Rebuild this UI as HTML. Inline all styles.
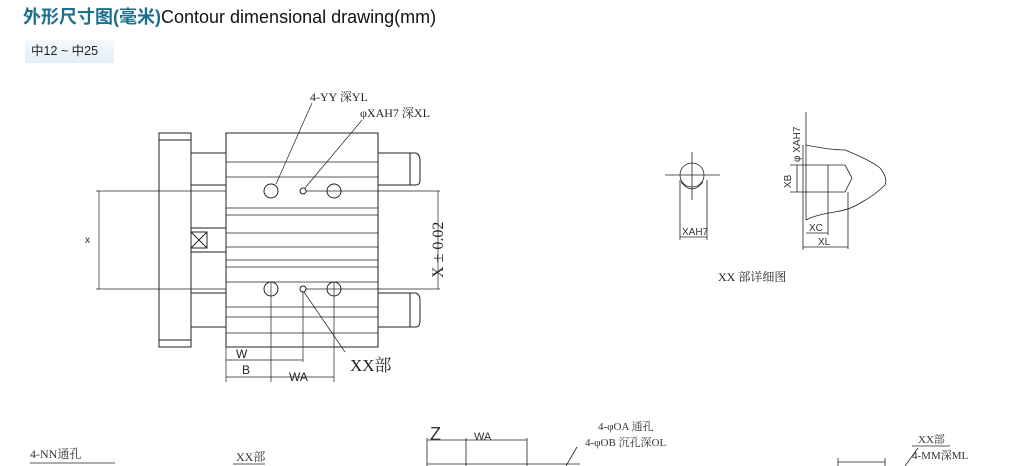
<!DOCTYPE html>
<html><head><meta charset="utf-8"><style>
body{margin:0;width:1024px;height:466px;background:#fff;overflow:hidden;position:relative;font-family:"Liberation Sans","Noto Sans CJK SC",sans-serif}
.t{position:absolute;left:23px;top:3px;font-size:18px;white-space:nowrap;color:#111}
.t b{color:#1d6f8f;font-weight:bold}
.badge{position:absolute;left:25px;top:40px;width:89px;height:23px;background:linear-gradient(#f4f9fc,#e3eef5);font-size:12.5px;line-height:23px;padding-left:6px;box-sizing:border-box;color:#222}
svg{position:absolute;left:0;top:0}
</style></head><body>
<div class="t"><b>外形尺寸图(毫米)</b>Contour dimensional drawing(mm)</div>
<div class="badge">中12 ~ 中25</div>
<svg width="1024" height="466" viewBox="0 0 1024 466" font-family="Liberation Serif, Noto Serif CJK SC, serif" fill="none" stroke="#222" stroke-width="1">
<rect x="159" y="133" width="32" height="214"/>
<line x1="159" y1="140" x2="191" y2="140"/><line x1="159" y1="340" x2="191" y2="340"/>
<rect x="191" y="153" width="35" height="32"/><rect x="191" y="293" width="35" height="34"/>
<rect x="191" y="228" width="35" height="24"/>
<rect x="191" y="232" width="16" height="16"/><line x1="191" y1="232" x2="207" y2="248"/><line x1="207" y1="232" x2="191" y2="248"/>
<path d="M378 153H416Q420 155 420 160V180Q420 185 416 185H378"/>
<path d="M378 293H416Q420 295 420 300V320Q420 327 416 327H378"/>
<line x1="410" y1="153" x2="410" y2="185"/><line x1="410" y1="293" x2="410" y2="327"/>
<rect x="226" y="133" width="152" height="214"/>
<g stroke-width="0.8">
<line x1="226" y1="162" x2="378" y2="162"/><line x1="226" y1="177" x2="378" y2="177"/>
<line x1="226" y1="208" x2="378" y2="208"/><line x1="226" y1="215" x2="378" y2="215"/>
<line x1="226" y1="233" x2="378" y2="233"/><line x1="226" y1="247" x2="378" y2="247"/>
<line x1="226" y1="260" x2="378" y2="260"/><line x1="226" y1="267" x2="378" y2="267"/>
<line x1="226" y1="282" x2="378" y2="282"/><line x1="226" y1="307" x2="378" y2="307"/>
<line x1="226" y1="317" x2="378" y2="317"/><line x1="226" y1="333" x2="378" y2="333"/>
</g>
<circle cx="271" cy="191" r="7" fill="#fff"/><circle cx="303" cy="191" r="3"/><circle cx="334" cy="191" r="7" fill="#fff"/>
<circle cx="271" cy="289" r="7" fill="#fff"/><circle cx="303" cy="289" r="3"/><circle cx="334" cy="289" r="7" fill="#fff"/>
<g stroke-width="0.7">
<line x1="96" y1="191" x2="226" y2="191"/><line x1="96" y1="289" x2="226" y2="289"/>
<line x1="306" y1="191" x2="440" y2="191"/><line x1="306" y1="289" x2="440" y2="289"/>
<line x1="99" y1="191" x2="99" y2="289"/><line x1="438" y1="191" x2="438" y2="289"/>
<line x1="226" y1="347" x2="226" y2="382"/><line x1="271" y1="282" x2="271" y2="382"/>
<line x1="303" y1="292" x2="303" y2="362"/><line x1="334" y1="282" x2="334" y2="382"/>
<line x1="226" y1="360" x2="303" y2="360"/><line x1="226" y1="377" x2="334" y2="377"/>
<line x1="312" y1="103" x2="276" y2="184"/><line x1="362" y1="120" x2="305" y2="188"/>
<line x1="304" y1="292" x2="345" y2="352"/>
</g>
<g fill="#222" stroke="none">
<text x="85" y="243" font-size="10" font-family="Liberation Sans,sans-serif">x</text>
<text x="0" y="0" font-size="16" transform="translate(443,278) rotate(-90)">X ± 0.02</text>
<text x="310" y="101" font-size="12">4-YY 深YL</text>
<text x="360" y="117" font-size="12">φXAH7 深XL</text>
<text x="350" y="371" font-size="17">XX部</text>
<text x="236" y="358" font-size="12" font-family="Liberation Sans,sans-serif">W</text>
<text x="242" y="374" font-size="12" font-family="Liberation Sans,sans-serif">B</text>
<text x="289" y="381" font-size="12" font-family="Liberation Sans,sans-serif">WA</text>
</g>
<g stroke-width="0.8">
<circle cx="692" cy="175" r="12"/><path d="M681 182Q692 196 703 182"/>
<line x1="665" y1="175" x2="720" y2="175"/><line x1="692" y1="152" x2="692" y2="200"/>
<line x1="680" y1="180" x2="680" y2="240"/><line x1="707" y1="180" x2="707" y2="240"/>
<line x1="680" y1="237" x2="707" y2="237"/>
<path d="M803 145V220"/><path d="M806 145V220"/>
<path d="M806 145Q830 150 845 150Q870 160 880 168Q888 178 885 185Q875 195 862 202Q850 210 835 212Q815 215 806 220"/>
<path d="M790 165H845L852 178L845 192H790"/>
<line x1="828" y1="165" x2="828" y2="235"/><line x1="848" y1="192" x2="848" y2="249"/>
<line x1="797" y1="165" x2="797" y2="192"/><line x1="806" y1="112" x2="806" y2="145"/>
<line x1="806" y1="233" x2="828" y2="233"/><line x1="803" y1="247" x2="848" y2="247"/>
<line x1="803" y1="220" x2="803" y2="250"/>
</g>
<g fill="#333" stroke="none" font-family="Liberation Sans,sans-serif">
<text x="682" y="235" font-size="10">XAH7</text>
<text transform="translate(791,188) rotate(-90)" font-size="10">XB</text>
<text transform="translate(800,162) rotate(-90)" font-size="10">φ XAH7</text>
<text x="809" y="231" font-size="10">XC</text>
<text x="818" y="245" font-size="10">XL</text>
</g>
<text x="718" y="281" font-size="12" fill="#222" stroke="none">XX 部详细图</text>
<g stroke-width="0.8">
<line x1="30" y1="463" x2="115" y2="463"/><line x1="233" y1="464" x2="265" y2="464"/>
<line x1="427" y1="464" x2="580" y2="464"/><line x1="577" y1="447" x2="566" y2="466"/>
<line x1="427" y1="438" x2="427" y2="466"/><line x1="466" y1="438" x2="466" y2="466"/><line x1="527" y1="438" x2="527" y2="466"/>
<line x1="427" y1="440" x2="527" y2="440"/>
<line x1="838" y1="458" x2="838" y2="466"/><line x1="885" y1="458" x2="885" y2="466"/><line x1="838" y1="462" x2="885" y2="462"/>
<line x1="912" y1="446" x2="950" y2="446"/><line x1="918" y1="448" x2="905" y2="466"/>
</g>
<g fill="#333" stroke="none">
<text x="30" y="458" font-size="12">4-NN通孔</text>
<text x="236" y="461" font-size="12">XX部</text>
<text x="430" y="440" font-size="18" font-family="Liberation Sans,sans-serif">Z</text>
<text x="474" y="440" font-size="11" font-family="Liberation Sans,sans-serif">WA</text>
<text x="598" y="430" font-size="11">4-φOA  通孔</text>
<text x="585" y="446" font-size="11">4-φOB  沉孔深OL</text>
<text x="918" y="443" font-size="11">XX部</text>
<text x="912" y="459" font-size="11">4-MM深ML</text>
</g>
</svg>
</body></html>
